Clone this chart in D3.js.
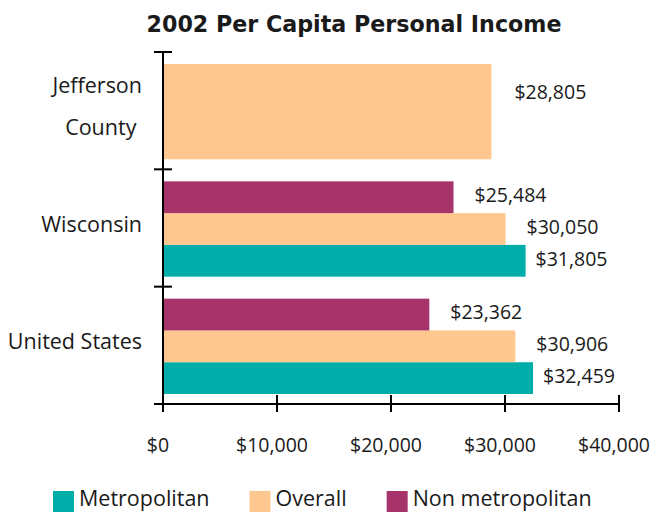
<!DOCTYPE html>
<html>
<head>
<meta charset="UTF-8">
<title>2002 Per Capita Personal Income</title>
<script src="https://d3js.org/d3.v7.min.js"></script>
<style>
  body { margin: 0; background: #fff; }
  text { font-family: "Open Sans", sans-serif; fill: #1a1a1a; }
</style>
</head>
<body>
<div id="chart"></div>
<script>
// data
var categories = ["Jefferson County", "Wisconsin", "United States"];
var metropolitan = [null, 31805, 32459];
var overall = [28805, 30050, 30906];
var nonMetropolitan = [null, 25484, 23362];
var xTicks = [0, 10000, 20000, 30000, 40000];
var seriesNames = ["Metropolitan", "Overall", "Non metropolitan"];
var colors = ["#00ADA9", "#FEC790", "#A6346B"];

var width = 652, height = 512;

var svg = d3.select("#chart").append("svg")
    .attr("width", width)
    .attr("height", height);

// scales
var x = d3.scaleLinear().domain([0, 40000]).range([163, 619]);
var y = d3.scaleBand().domain(categories).range([52, 404]);

// slots inside each category, top to bottom
var slotOrder = ["Non metropolitan", "Overall", "Metropolitan"];
var slot = d3.scaleBand().domain(slotOrder).range([12, y.bandwidth() - 10]);

var money = function(v) { return "$" + d3.format(",")(v); };

// title
svg.append("text")
    .attr("x", 354)
    .attr("y", 32)
    .attr("text-anchor", "middle")
    .style("font-family", "'DejaVu Sans', sans-serif")
    .style("font-weight", "bold")
    .style("font-size", "22.2px")
    .text("2002 Per Capita Personal Income");

// build bar records
var bars = [];
var valuesBySeries = {
    "Metropolitan": metropolitan,
    "Overall": overall,
    "Non metropolitan": nonMetropolitan
};
categories.forEach(function(c, i) {
    var single = metropolitan[i] == null && nonMetropolitan[i] == null;
    seriesNames.forEach(function(s, si) {
        var v = valuesBySeries[s][i];
        if (v == null) return;
        var y0, h;
        if (single) {
            y0 = y(c) + slot.range()[0];
            h = slot.range()[1] - slot.range()[0];
        } else {
            y0 = y(c) + slot(s);
            h = slot.bandwidth();
        }
        bars.push({cat: c, series: s, value: v, color: colors[si], y: y0, h: h, single: single});
    });
});

svg.selectAll("rect.bar")
    .data(bars)
    .enter().append("rect")
    .attr("class", "bar")
    .attr("x", x(0))
    .attr("y", function(d) { return d.y; })
    .attr("width", function(d) { return x(d.value) - x(0); })
    .attr("height", function(d) { return d.h; })
    .attr("fill", function(d) { return d.color; });

// value labels
svg.selectAll("text.val")
    .data(bars)
    .enter().append("text")
    .attr("class", "val")
    .attr("x", function(d) {
        var off = d.series === "Metropolitan" ? 10 : (d.single ? 23 : 21);
        return x(d.value) + off;
    })
    .attr("y", function(d) { return d.single ? d.y + d.h * 0.3 : d.y + d.h / 2 - 2; })
    .attr("dy", "0.35em")
    .style("font-size", "19.5px")
    .text(function(d) { return money(d.value); });

// axes
var axisG = svg.append("g").attr("stroke", "#000").attr("stroke-width", 2);

axisG.append("line")
    .attr("x1", x(0)).attr("x2", x(0))
    .attr("y1", y.range()[0]).attr("y2", y.range()[1] + 8);
axisG.append("line")
    .attr("x1", x(0) - 9).attr("x2", x(40000) + 1)
    .attr("y1", y.range()[1]).attr("y2", y.range()[1]);

// y ticks at category boundaries
var yTickPos = categories.map(function(c) { return y(c); });
axisG.selectAll("line.ytick")
    .data(yTickPos)
    .enter().append("line")
    .attr("x1", x(0) - 9).attr("x2", x(0) + 9)
    .attr("y1", function(d) { return d; }).attr("y2", function(d) { return d; });

// x ticks
axisG.selectAll("line.xtick")
    .data(xTicks)
    .enter().append("line")
    .attr("x1", function(d) { return x(d); }).attr("x2", function(d) { return x(d); })
    .attr("y1", y.range()[1] - 9).attr("y2", y.range()[1] + 8);

svg.selectAll("text.xlab")
    .data(xTicks)
    .enter().append("text")
    .attr("class", "xlab")
    .attr("x", function(d) { return x(d) - 5; })
    .attr("y", 452)
    .attr("text-anchor", "middle")
    .style("font-size", "19.5px")
    .text(money);

// category labels
categories.forEach(function(c) {
    var words = c === "Jefferson County" ? ["Jefferson", "County\u00a0"] : [c];
    var mid = y(c) + y.bandwidth() / 2;
    var t = svg.append("text")
        .attr("x", 142)
        .attr("text-anchor", "end")
        .style("font-size", "21.5px");
    if (words.length === 1) {
        t.attr("y", mid - 4).attr("dy", "0.35em").text(c);
    } else {
        words.forEach(function(w, i) {
            t.append("tspan")
                .attr("x", 142)
                .attr("y", mid - 25 + i * 42)
                .attr("dy", "0.35em")
                .text(w);
        });
    }
});

// legend
var lx = 53;
seriesNames.forEach(function(s, i) {
    svg.append("rect")
        .attr("x", lx).attr("y", 491)
        .attr("width", 21).attr("height", 21)
        .attr("fill", colors[i]);
    var t = svg.append("text")
        .attr("x", lx + 26)
        .attr("y", 506)
        .style("font-size", "21.5px")
        .text(s);
    lx += 26 + t.node().getComputedTextLength() + 40;
});
</script>
</body>
</html>
